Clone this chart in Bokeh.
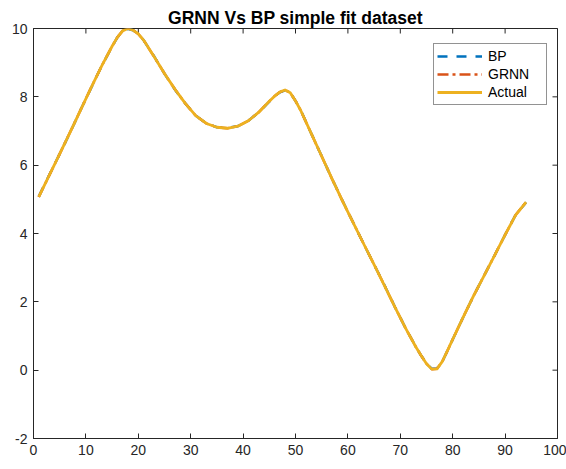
import math
from bokeh.plotting import figure
from bokeh.models import Range1d, FixedTicker, Legend, LegendItem
from bokeh.embed import file_html
from bokeh.resources import INLINE

# sample index of the simple fit dataset
x_vals = [1, 3, 5, 7, 9, 11, 13, 15, 16, 17, 18, 19, 20, 21, 23, 25, 27, 29, 31, 33, 35, 37,
          39, 41, 43, 45, 46, 47, 48, 49, 50, 51, 53, 55, 57, 59, 61, 63, 65, 67, 69, 71, 73,
          74, 75, 76, 77, 78, 79, 80, 82, 84, 86, 88, 90, 92, 94]

actual_vals = [5.07, 5.70, 6.33, 6.97, 7.62, 8.27, 8.90, 9.48, 9.74, 9.93, 10.00, 9.95, 9.84,
               9.66, 9.18, 8.68, 8.22, 7.80, 7.44, 7.22, 7.11, 7.08, 7.14, 7.30, 7.55, 7.87,
               8.02, 8.14, 8.20, 8.12, 7.88, 7.60, 6.93, 6.26, 5.59, 4.94, 4.32, 3.70, 3.09,
               2.47, 1.84, 1.23, 0.67, 0.42, 0.19, 0.03, 0.04, 0.25, 0.57, 0.90, 1.55, 2.18,
               2.77, 3.36, 3.96, 4.54, 4.92]

bp_vals = [5.08, 5.71, 6.33, 6.96, 7.62, 8.26, 8.90, 9.47, 9.74, 9.92, 9.99, 9.95, 9.84,
           9.66, 9.19, 8.68, 8.21, 7.80, 7.45, 7.22, 7.11, 7.09, 7.14, 7.30, 7.55, 7.86,
           8.02, 8.13, 8.19, 8.12, 7.88, 7.61, 6.93, 6.26, 5.59, 4.95, 4.32, 3.70, 3.09,
           2.48, 1.84, 1.23, 0.68, 0.42, 0.20, 0.04, 0.05, 0.25, 0.57, 0.90, 1.55, 2.18,
           2.77, 3.36, 3.96, 4.54, 4.91]

grnn_vals = [5.07, 5.70, 6.33, 6.97, 7.62, 8.27, 8.90, 9.48, 9.74, 9.93, 10.00, 9.95, 9.84,
             9.66, 9.18, 8.68, 8.22, 7.80, 7.44, 7.22, 7.11, 7.08, 7.14, 7.30, 7.55, 7.87,
             8.02, 8.14, 8.20, 8.12, 7.88, 7.60, 6.93, 6.26, 5.59, 4.94, 4.32, 3.70, 3.09,
             2.47, 1.84, 1.23, 0.67, 0.42, 0.19, 0.03, 0.04, 0.25, 0.57, 0.90, 1.55, 2.18,
             2.77, 3.36, 3.96, 4.54, 4.92]

x_ticks = [0, 10, 20, 30, 40, 50, 60, 70, 80, 90, 100]
y_ticks = [-2, 0, 2, 4, 6, 8, 10]
x_min, x_max = 0, 100
y_min, y_max = -2, 10

AX = "#262626"
FONT = "Liberation Sans"

p = figure(width=566, height=469, output_backend="svg", toolbar_location=None,
           x_range=Range1d(x_min, x_max), y_range=Range1d(y_min, y_max),
           min_border_left=33, min_border_right=9, min_border_top=28, min_border_bottom=31,
           title="GRNN Vs BP simple fit dataset")
p.title.align = "center"
p.title.text_font = FONT
p.title.text_font_size = "17.5px"
p.title.text_font_style = "bold"
p.title.text_color = "#000000"
p.title.standoff = 2
p.xgrid.visible = False
p.ygrid.visible = False
p.outline_line_color = AX
p.outline_line_width = 1

for ax in (p.xaxis[0], p.yaxis[0]):
    ax.axis_line_color = AX
    ax.major_tick_line_color = AX
    ax.major_tick_in = 5
    ax.major_tick_out = 0
    ax.minor_tick_line_color = None
    ax.major_label_text_font = FONT
    ax.major_label_text_font_size = "14px"
    ax.major_label_text_color = AX
    ax.major_label_standoff = 6
p.xaxis[0].ticker = FixedTicker(ticks=x_ticks)
p.yaxis[0].ticker = FixedTicker(ticks=y_ticks)
p.yaxis[0].major_label_overrides = {-2: "-2"}

# mirrored inward ticks on the top and right edges (clipped to the frame)
p.scatter(x_ticks, [y_max] * len(x_ticks), marker="dash", size=10, angle=math.pi / 2,
          line_color=AX, line_width=1)
p.scatter([x_max] * len(y_ticks), y_ticks, marker="dash", size=10, angle=0,
          line_color=AX, line_width=1)

r_bp = p.line(x_vals, bp_vals, line_color="#0072BD", line_width=2.5, line_dash="10 9")
r_grnn = p.line(x_vals, grnn_vals, line_color="#D95319", line_width=2.5, line_dash="11 4 3 4")
r_act = p.line(x_vals, actual_vals, line_color="#EDB120", line_width=2.8, line_join="round")

legend = Legend(items=[LegendItem(label="BP", renderers=[r_bp]),
                       LegendItem(label="GRNN", renderers=[r_grnn]),
                       LegendItem(label="Actual", renderers=[r_act])],
                location=(400, 333))
legend.margin = 0
legend.padding = 3
legend.spacing = 0
legend.glyph_width = 45
legend.glyph_height = 18
legend.label_height = 18
legend.label_width = 55
legend.label_standoff = 6
legend.label_text_font = FONT
legend.label_text_font_size = "14px"
legend.label_text_color = "#000000"
legend.border_line_color = AX
legend.border_line_width = 1
legend.background_fill_color = "white"
legend.background_fill_alpha = 1
p.add_layout(legend, "center")

open("out.html", "w").write(file_html(p, INLINE))
